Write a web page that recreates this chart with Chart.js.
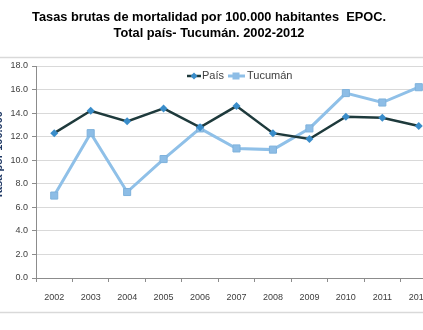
<!DOCTYPE html>
<html>
<head>
<meta charset="utf-8">
<script src="https://cdn.jsdelivr.net/npm/chart.js@4.4.1/dist/chart.umd.min.js"></script>
<style>
    html, body { margin: 0; padding: 0; background: #fff; overflow: hidden; }
    canvas { display: block; }
</style>
</head>
<body>
<canvas id="chart" width="443" height="330"></canvas>
<script>
// data
const years = ["2002", "2003", "2004", "2005", "2006", "2007", "2008", "2009", "2010", "2011", "2012"];
const paisData = [12.3, 14.2, 13.3, 14.4, 12.8, 14.6, 12.3, 11.8, 13.7, 13.6, 12.9];
const tucumanData = [7.0, 12.3, 7.3, 10.1, 12.7, 11.0, 10.9, 12.7, 15.7, 14.9, 16.2];
const yTicks = [0, 2, 4, 6, 8, 10, 12, 14, 16, 18];

const titleLines = ["Tasas brutas de mortalidad por 100.000 habitantes  EPOC.", "Total país- Tucumán. 2002-2012"];

const paisLine = "#1e3a3c";
const paisPoint = "#3a8dca";
const tucLine = "#8fc0e8";
const tucPoint = "#8dbde6";

// title, legend, border drawn by hand
const decor = {
    id: "decor",
    beforeDraw(chart) {
        const c = chart.ctx;
        c.save();
        c.strokeStyle = "#d9d9d9";
        c.lineWidth = 1.5;
        c.beginPath();
        c.moveTo(0, 57.5); c.lineTo(450, 57.5);
        c.moveTo(0, 312.5); c.lineTo(450, 312.5);
        c.stroke();
        c.restore();
    },
    afterDraw(chart) {
        const c = chart.ctx;
        c.save();
        // title
        c.fillStyle = "#000";
        c.font = "bold 12.8px 'Liberation Sans', Arial, sans-serif";
        c.textAlign = "center";
        c.textBaseline = "middle";
        c.fillText(titleLines[0], 209, 17);
        c.fillText(titleLines[1], 209, 33);

        // y axis title, mostly cut off at the left edge
        c.translate(1.5, 155);
        c.rotate(-Math.PI / 2);
        c.fillStyle = "#1f3864";
        c.font = "bold 11px 'Liberation Sans', Arial, sans-serif";
        c.textBaseline = "alphabetic";
        c.fillText("Tasa por 100.000", 0, 0);
        c.setTransform(1, 0, 0, 1, 0, 0);

        // legend
        const ly = 76;
        c.lineWidth = 2.5;
        c.strokeStyle = paisLine;
        c.beginPath(); c.moveTo(187, ly); c.lineTo(201, ly); c.stroke();
        c.fillStyle = paisPoint;
        c.beginPath();
        c.moveTo(194, ly - 3.5); c.lineTo(197.5, ly); c.lineTo(194, ly + 3.5); c.lineTo(190.5, ly);
        c.closePath(); c.fill();

        c.lineWidth = 3;
        c.strokeStyle = tucLine;
        c.beginPath(); c.moveTo(228, ly); c.lineTo(245, ly); c.stroke();
        c.fillStyle = tucPoint;
        c.fillRect(232.5, ly - 3.5, 7, 7);

        c.fillStyle = "#404040";
        c.font = "11px 'Liberation Sans', Arial, sans-serif";
        c.textAlign = "left";
        c.textBaseline = "middle";
        c.fillText("País", 202, ly);
        c.fillText("Tucumán", 247, ly);
        c.restore();
    }
};

const ctx = document.getElementById("chart");

const chart = new Chart(ctx, {
    type: "line",
    data: {
        labels: years,
        datasets: [{
            label: "País",
            data: paisData,
            borderColor: paisLine,
            borderWidth: 2.5,
            pointStyle: "rectRot",
            pointRadius: 4,
            pointBackgroundColor: paisPoint,
            pointBorderColor: paisPoint,
            pointBorderWidth: 0,
            tension: 0
        }, {
            label: "Tucumán",
            data: tucumanData,
            borderColor: tucLine,
            borderWidth: 3,
            pointStyle: "rect",
            pointRadius: 5,
            pointBackgroundColor: tucPoint,
            pointBorderColor: "#7fb2dc",
            pointBorderWidth: 1,
            tension: 0
        }]
    },
    options: {
        responsive: false,
        animation: false,
        layout: {
            padding: { top: 66, bottom: 17, left: 0, right: 0 }
        },
        plugins: {
            legend: { display: false },
            title: { display: false },
            tooltip: { enabled: false }
        },
        scales: {
            x: {
                offset: true,
                grid: {
                    offset: true,
                    drawOnChartArea: false,
                    drawTicks: true,
                    tickLength: 4,
                    color: "#8c8c8c"
                },
                border: { color: "#8c8c8c", width: 1 },
                ticks: {
                    color: "#404040",
                    padding: 10,
                    maxRotation: 0,
                    autoSkip: false,
                    font: { family: "'Liberation Sans', Arial, sans-serif", size: 9 }
                },
                afterFit(scale) { scale.height = 35; }
            },
            y: {
                min: 0,
                max: 18,
                afterBuildTicks(scale) {
                    scale.ticks = yTicks.map(v => ({ value: v }));
                },
                grid: {
                    color: "#d9d9d9",
                    tickLength: 4,
                    tickColor: "#8c8c8c"
                },
                border: { color: "#8c8c8c", width: 1 },
                ticks: {
                    color: "#404040",
                    padding: 4,
                    font: { family: "'Liberation Sans', Arial, sans-serif", size: 9 },
                    callback: v => Number(v).toFixed(1)
                },
                afterFit(scale) { scale.width = 36; }
            }
        }
    },
    plugins: [decor]
});
</script>
</body>
</html>
